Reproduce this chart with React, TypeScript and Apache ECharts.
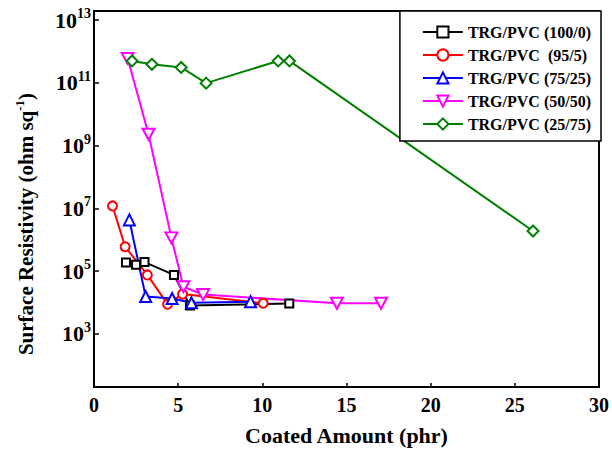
import React, { useEffect, useRef } from "react";
import * as echarts from "echarts";

const seriesNames = [
  "TRG/PVC (100/0)",
  "TRG/PVC  (95/5)",
  "TRG/PVC (75/25)",
  "TRG/PVC (50/50)",
  "TRG/PVC (25/75)",
];
const seriesColors = ["#000000", "#ff0000", "#0000ff", "#ff00ff", "#008000"];

const xBlack = [1.9, 2.5, 3.0, 4.75, 5.7, 11.6];
const yBlack = [1.9e5, 1.6e5, 1.95e5, 7.6e4, 8.0e3, 9.3e3];

const xRed = [1.1, 1.85, 3.17, 4.37, 5.26, 10.05];
const yRed = [1.2e7, 6.0e5, 7.6e4, 8.9e3, 1.86e4, 9.5e3];

const xBlue = [2.1, 3.07, 4.64, 5.79, 9.3];
const yBlue = [4.3e6, 1.55e4, 1.35e4, 9.8e3, 1.07e4];

const xMagenta = [2.0, 3.24, 4.6, 5.31, 6.48, 14.43, 17.05];
const yMagenta = [6.0e11, 2.3e9, 1.15e6, 3.2e4, 1.8e4, 9.5e3, 9.5e3];

const xGreen = [2.26, 3.44, 5.18, 6.66, 10.94, 11.61, 26.08];
const yGreen = [5.0e11, 3.9e11, 3.1e11, 9.8e10, 5.0e11, 5.0e11, 1.9e6];

const yTickExponents = [3, 5, 7, 9, 11, 13];
const xTicks = [0, 5, 10, 15, 20, 25, 30];

const FONT = "Liberation Serif";

const xs = [xBlack, xRed, xBlue, xMagenta, xGreen];
const ys = [yBlack, yRed, yBlue, yMagenta, yGreen];
const symbols = [
  "rect",
  "circle",
  "triangle",
  "path://M0,0L10,0L5,9Z",
  "diamond",
];
const symbolSizes: any[] = [8, 9, 11, [12, 11], 11];

export default function App() {
  const ref = useRef<HTMLDivElement>(null);
  useEffect(() => {
    if (!ref.current) return;
    const chart = echarts.init(ref.current, null, { renderer: "svg" });
    const series = seriesNames.map((name, k) => ({
      name,
      type: "line",
      data: xs[k].map((x, i) => [x, Math.log10(ys[k][i])]),
      symbol: symbols[k],
      symbolSize: symbolSizes[k],
      lineStyle: { color: seriesColors[k], width: 2 },
      itemStyle: {
        color: "#ffffff",
        borderColor: seriesColors[k],
        borderWidth: 2,
      },
      emphasis: { disabled: true },
      z: 2,
    }));
    chart.setOption({
      animation: false,
      backgroundColor: "#ffffff",
      grid: {
        left: 94,
        right: 11,
        top: 11,
        bottom: 72,
        show: true,
        borderColor: "#000",
        borderWidth: 2,
        backgroundColor: "transparent",
      },
      legend: {
        orient: "vertical",
        right: 11,
        top: 11,
        z: 20,
        data: seriesNames,
        itemWidth: 40,
        itemHeight: 14,
        itemGap: 7,
        padding: [13, 10, 9, 22],
        borderColor: "#000",
        borderWidth: 1.5,
        backgroundColor: "#fff",
        textStyle: {
          fontFamily: FONT,
          fontWeight: "bold",
          fontSize: 16,
          color: "#000",
        },
      },
      xAxis: {
        type: "value",
        min: 0,
        max: 30,
        interval: 5,
        name: "Coated Amount (phr)",
        nameLocation: "middle",
        nameGap: 37,
        nameTextStyle: {
          fontFamily: FONT,
          fontWeight: "bold",
          fontSize: 22,
          color: "#000",
        },
        axisLine: { lineStyle: { color: "#000", width: 2 } },
        axisTick: { inside: true, length: 4, lineStyle: { color: "#000", width: 1.5 } },
        axisLabel: {
          fontFamily: FONT,
          fontWeight: "bold",
          fontSize: 20,
          color: "#000",
          margin: 8,
          customValues: xTicks,
        },
        splitLine: { show: false },
      },
      yAxis: {
        type: "value",
        min: 1.31,
        max: 13.29,
        name: "Surface Resistivity (ohm sq{sup|-1})",
        nameLocation: "middle",
        nameGap: 56,
        nameTextStyle: {
          fontFamily: FONT,
          fontWeight: "bold",
          fontSize: 21,
          color: "#000",
          padding: [0, 50, 0, 0],
          rich: {
            sup: {
              fontFamily: FONT,
              fontWeight: "bold",
              fontSize: 13,
              color: "#000",
              padding: [0, 0, 12, 0],
            },
          },
        },
        axisLine: { lineStyle: { color: "#000", width: 2 } },
        axisTick: {
          inside: true,
          length: 5,
          lineStyle: { color: "#000", width: 1.5 },
          customValues: yTickExponents,
        },
        axisLabel: {
          margin: 3,
          customValues: yTickExponents,
          formatter: (v: number) => `{b|10}{s|${Math.round(v)}}`,
          rich: {
            b: {
              fontFamily: FONT,
              fontWeight: "bold",
              fontSize: 22,
              color: "#000",
            },
            s: {
              fontFamily: FONT,
              fontWeight: "bold",
              fontSize: 14,
              color: "#000",
              padding: [0, 0, 13, 0],
            },
          },
        },
        splitLine: { show: false },
      },
      series,
    });
    return () => chart.dispose();
  }, []);
  return <div ref={ref} style={{ width: 612, height: 459, position: "absolute", left: 0, top: 0 }} />;
}
